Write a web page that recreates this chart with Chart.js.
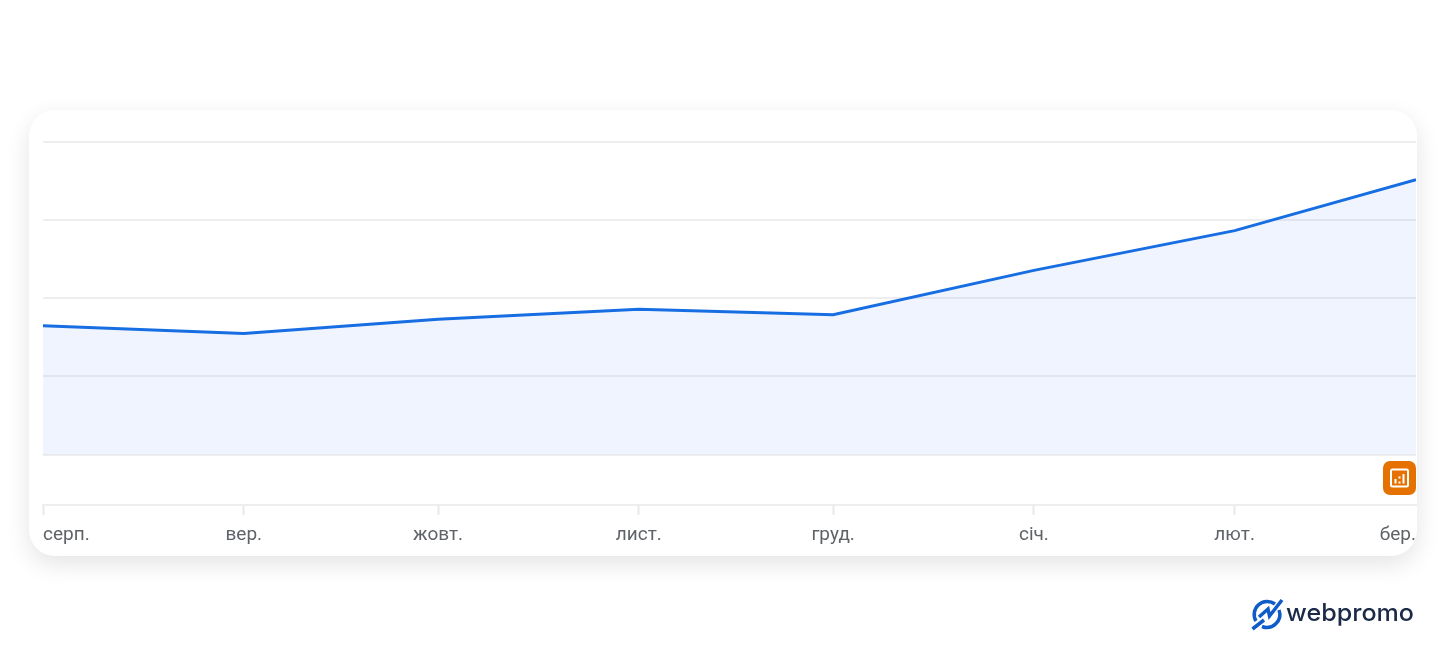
<!DOCTYPE html>
<html>
<head>
<meta charset="utf-8">
<title>chart</title>
<script src="https://cdn.jsdelivr.net/npm/chart.js@4"></script>
<style>
  html, body { margin: 0; padding: 0; background: #fff; }
  body { width: 1446px; height: 666px; position: relative; overflow: hidden; }
  #card {
    position: absolute; left: 29px; top: 110px; width: 1388px; height: 446px;
    background: #fff; border-radius: 26px; box-shadow: 0 8px 24px rgba(0,0,0,.11);
  }
  canvas { position: absolute; left: 0; top: 0; }
  #badge {
    position: absolute; left: 1383px; top: 461px; width: 33px; height: 34px;
    background: #e57200; border-radius: 7px;
  }
  #logo { position: absolute; left: 1250px; top: 596px; }
</style>
</head>
<body>
<div id="card"></div>
<canvas id="chart" width="1446" height="666"></canvas>
<div id="badge">
  <svg width="33" height="34" viewBox="0 0 33 34">
    <rect x="8" y="8.5" width="17" height="17" rx="1.5" fill="none" stroke="#fff" stroke-width="2"/>
    <path d="M12.5 18v4.5M16.5 20.5v2M16.5 15.5v2M20.5 13v9.5" stroke="#fff" stroke-width="2" fill="none"/>
  </svg>
</div>
<svg id="logo" width="170" height="36" viewBox="0 0 170 36">
  <path d="M6 25 A13 13 0 0 1 25 8 M29 14 A13 13 0 0 1 12 30.5" fill="none" stroke="#0f5cc8" stroke-width="3.5"/>
  <path d="M2.5 33 L14 24 M9 21 L18 13 L19.5 20 L32 4" fill="none" stroke="#0f5cc8" stroke-width="3.5"/>
  <text x="36" y="25" font-family="Inter" font-weight="500" font-size="24" fill="#1b2a47" textLength="128" lengthAdjust="spacingAndGlyphs">webpromo</text>
</svg>

<script>
"use strict"

// days since 1 Aug, months are not the same length so the ticks are uneven
const monthLabels = ["серп.", "вер.", "жовт.", "лист.", "груд.", "січ.", "лют.", "бер."];
const monthDays = [0, 31, 61, 92, 122, 153, 184, 212];
const seriesValues = [41.2, 38.7, 43.3, 46.5, 44.7, 58.9, 71.6, 87.9];
const gridValues = [0, 25, 50, 75, 100];

new Chart(document.getElementById("chart"), {
    type: 'line',
    data: {
      datasets: [
        {
          data: monthDays.map((d, i) => ({ x: d, y: seriesValues[i] })),
          borderColor: "#176ee2",
          borderWidth: 3,
          backgroundColor: "rgba(60,120,240,0.08)",
          fill: { value: 0 },
          tension: 0,
          pointRadius: 0
        }
      ]
    },
    options: {
      responsive: false,
      animation: false,
      layout: { padding: { left: 43, right: 30, top: 141, bottom: 110 } },
      plugins: { legend: { display: false }, tooltip: { enabled: false } },
      scales: {
        x: {
          type: 'linear',
          min: monthDays[0],
          max: monthDays[monthDays.length - 1],
          afterBuildTicks: (s) => { s.ticks = monthDays.map(v => ({ value: v })); },
          afterFit: (s) => { s.height = 51; },
          border: { color: "#eeeeee", width: 2 },
          grid: {
            drawOnChartArea: false,
            tickLength: 10,
            tickWidth: 2,
            // no tick under the last month
            tickColor: (c) => c.index === monthDays.length - 1 ? "rgba(0,0,0,0)" : "#e8e8e8"
          },
          ticks: {
            align: 'inner',
            maxRotation: 0,
            autoSkip: false,
            padding: 9,
            color: "#5f6368",
            font: { family: "Roboto", size: 19 },
            callback: (v) => monthLabels[monthDays.indexOf(v)]
          }
        },
        y: {
          min: -16.11,
          max: 100.26,
          afterBuildTicks: (s) => { s.ticks = gridValues.map(v => ({ value: v })); },
          border: { display: false },
          grid: { color: "#eeeeee", lineWidth: 2, drawTicks: false },
          ticks: { display: false }
        }
      }
    }
});
</script>
</body>
</html>
